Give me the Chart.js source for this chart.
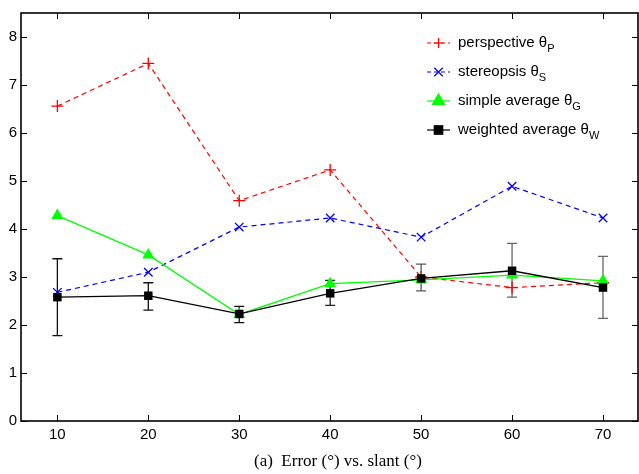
<!DOCTYPE html>
<html>
<head>
<meta charset="utf-8">
<script src="https://cdn.jsdelivr.net/npm/chart.js@4.4.1/dist/chart.umd.min.js"></script>
<style>
  html, body { margin: 0; padding: 0; background: #fff; }
  #wrap { width: 639px; height: 474px; }
</style>
</head>
<body>
<div id="wrap"><canvas id="errChart" width="639" height="474"></canvas></div>
<script>
// slant angles and tick marks
const slant = [10, 20, 30, 40, 50, 60, 70];
const xTicks = [10, 20, 30, 40, 50, 60, 70];
const yTicks = [0, 1, 2, 3, 4, 5, 6, 7, 8];

// error (degrees) per estimator
const perspective = [6.56, 7.45, 4.59, 5.23, 3.0, 2.78, 2.88];
const stereopsis = [2.68, 3.10, 4.04, 4.23, 3.83, 4.89, 4.23];
const simpleAvg = [4.28, 3.46, 2.22, 2.86, 2.94, 3.04, 2.92];
const weightedAvg = [2.58, 2.61, 2.23, 2.66, 2.97, 3.13, 2.78];

// error bar extents for the weighted average
const errLow = [1.78, 2.31, 2.05, 2.41, 2.71, 2.58, 2.14];
const errHigh = [3.38, 2.88, 2.39, 2.93, 3.27, 3.70, 3.43];
const errColor = ['#111', '#111', '#111', '#222', '#555', '#666', '#666'];

const legendRows = [
    { text: 'perspective ', sub: 'P', color: '#ff0000', dash: [4, 3], style: 'cross', r: 5 },
    { text: 'stereopsis ', sub: 'S', color: '#0000ff', dash: [4, 3], style: 'crossRot', r: 6 },
    { text: 'simple average ', sub: 'G', color: '#00ff00', dash: [], style: 'triangle', r: 7 },
    { text: 'weighted average ', sub: 'W', color: '#000000', dash: [], style: 'rect', r: 6 },
];

const sansFont = "'Liberation Sans', Arial, Helvetica, sans-serif";
const serifFont = "'Liberation Serif', 'Times New Roman', serif";

function toPoints(values) {
    return slant.map((x, i) => ({ x: x, y: values[i] }));
}

// matlab-like box with inward ticks on all four sides
const frame = {
    id: 'frame',
    afterDraw(chart) {
        const { ctx, chartArea: a, scales } = chart;
        ctx.save();
        ctx.strokeStyle = '#000';
        ctx.lineWidth = 1;
        ctx.beginPath();
        xTicks.forEach(v => {
            const px = Math.round(scales.x.getPixelForValue(v)) + 0.5;
            ctx.moveTo(px, a.bottom); ctx.lineTo(px, a.bottom - 6);
            ctx.moveTo(px, a.top); ctx.lineTo(px, a.top + 6);
        });
        yTicks.forEach(v => {
            const py = Math.round(scales.y.getPixelForValue(v)) + 0.5;
            ctx.moveTo(a.left, py); ctx.lineTo(a.left + 6, py);
            ctx.moveTo(a.right, py); ctx.lineTo(a.right - 6, py);
        });
        ctx.stroke();
        ctx.lineWidth = 1.6;
        ctx.strokeRect(a.left, a.top, a.right - a.left, a.bottom - a.top);

        // legend
        const lx0 = 427, lx1 = 450, tx = 458;
        legendRows.forEach((row, i) => {
            const y = 43 + i * 29;
            ctx.strokeStyle = row.color;
            ctx.lineWidth = 1.2;
            ctx.setLineDash(row.dash);
            ctx.beginPath();
            ctx.moveTo(lx0, y); ctx.lineTo(lx1, y);
            ctx.stroke();
            ctx.setLineDash([]);
            ctx.fillStyle = row.color;
            ctx.lineWidth = 1.2;
            Chart.helpers.drawPoint(ctx, { pointStyle: row.style, radius: row.r, borderWidth: 1.2 }, 438.5, y);
            if (row.style === 'triangle' || row.style === 'rect') ctx.fill();
            ctx.fillStyle = '#000';
            ctx.font = '15px ' + sansFont;
            ctx.textBaseline = 'middle';
            ctx.textAlign = 'left';
            ctx.fillText(row.text + '\u03b8', tx, y);
            const w = ctx.measureText(row.text + '\u03b8').width;
            ctx.font = '11px ' + sansFont;
            ctx.fillText(row.sub, tx + w, y + 6);
        });

        // caption
        ctx.font = '17px ' + serifFont;
        ctx.fillStyle = '#000';
        ctx.textBaseline = 'alphabetic';
        ctx.textAlign = 'left';
        ctx.fillText('(a)  Error (\u00b0) vs. slant (\u00b0)', 254, 466);
        ctx.restore();
    }
};

// vertical error bars on the weighted average
const errorBars = {
    id: 'errorBars',
    beforeDatasetsDraw(chart) {
        const { ctx, scales } = chart;
        ctx.save();
        ctx.lineWidth = 1.3;
        slant.forEach((x, i) => {
            const px = scales.x.getPixelForValue(x);
            const lo = scales.y.getPixelForValue(errLow[i]);
            const hi = scales.y.getPixelForValue(errHigh[i]);
            ctx.strokeStyle = errColor[i];
            ctx.beginPath();
            ctx.moveTo(px, lo); ctx.lineTo(px, hi);
            ctx.moveTo(px - 5, lo); ctx.lineTo(px + 5, lo);
            ctx.moveTo(px - 5, hi); ctx.lineTo(px + 5, hi);
            ctx.stroke();
        });
        ctx.restore();
    }
};

new Chart(document.getElementById('errChart'), {
    type: 'line',
    data: {
        datasets: [
            {
                label: 'weighted average',
                data: toPoints(weightedAvg),
                borderColor: '#000',
                backgroundColor: '#000',
                borderWidth: 1.3,
                pointStyle: 'rect',
                pointRadius: 6,
                pointBorderWidth: 0,
                order: 1
            },
            {
                label: 'simple average',
                data: toPoints(simpleAvg),
                borderColor: '#00ff00',
                backgroundColor: '#00ff00',
                borderWidth: 1.3,
                pointStyle: 'triangle',
                pointRadius: 7,
                pointBorderWidth: 0,
                order: 2
            },
            {
                label: 'stereopsis',
                data: toPoints(stereopsis),
                borderColor: '#0000ff',
                backgroundColor: '#0000ff',
                borderWidth: 1.2,
                borderDash: [5, 4],
                pointStyle: 'crossRot',
                pointRadius: 6,
                pointBorderWidth: 1.3,
                order: 3
            },
            {
                label: 'perspective',
                data: toPoints(perspective),
                borderColor: '#ff0000',
                backgroundColor: '#ff0000',
                borderWidth: 1.2,
                borderDash: [5, 4],
                pointStyle: 'cross',
                pointRadius: 6,
                pointBorderWidth: 1.3,
                order: 4
            }
        ]
    },
    options: {
        responsive: false,
        animation: false,
        layout: { autoPadding: false, padding: { top: 10, right: 1, left: 0, bottom: 0 } },
        plugins: {
            legend: { display: false },
            tooltip: { enabled: false }
        },
        scales: {
            x: {
                type: 'linear',
                min: 6,
                max: 73.85,
                afterBuildTicks: s => { s.ticks = xTicks.map(v => ({ value: v })); },
                afterFit: s => { s.height = 53; },
                grid: { display: false, drawTicks: false },
                border: { display: false },
                ticks: { color: '#000', padding: 5, maxRotation: 0, font: { family: sansFont, size: 15 } }
            },
            y: {
                min: 0,
                max: 8.5,
                afterBuildTicks: s => { s.ticks = yTicks.map(v => ({ value: v })); },
                afterFit: s => { s.width = 21; },
                grid: { display: false, drawTicks: false },
                border: { display: false },
                ticks: { color: '#000', padding: 4, font: { family: sansFont, size: 15 } }
            }
        }
    },
    plugins: [errorBars, frame]
});
</script>
</body>
</html>
